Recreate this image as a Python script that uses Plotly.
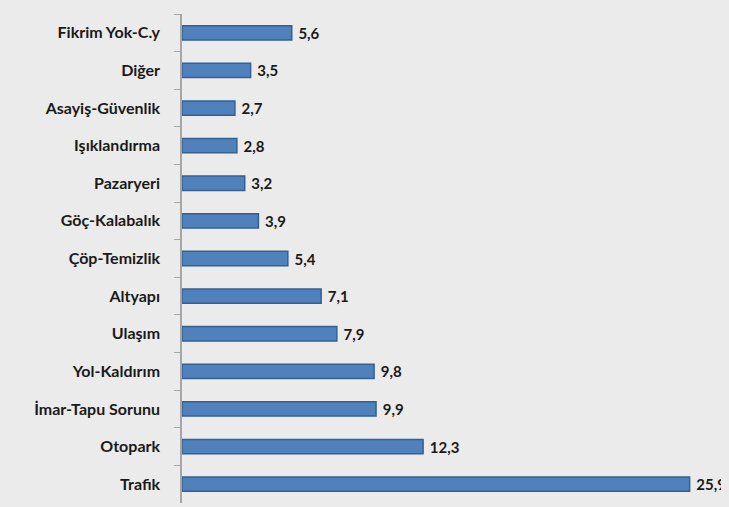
import plotly.graph_objects as go

categories = ["Fikrim Yok-C.y", "Diğer", "Asayiş-Güvenlik", "Işıklandırma", "Pazaryeri",
              "Göç-Kalabalık", "Çöp-Temizlik", "Altyapı", "Ulaşım", "Yol-Kaldırım",
              "İmar-Tapu Sorunu", "Otopark", "Trafik"]
values = [5.6, 3.5, 2.7, 2.8, 3.2, 3.9, 5.4, 7.1, 7.9, 9.8, 9.9, 12.3, 25.9]
labels = [" " + f"{v:.1f}".replace(".", ",") for v in values]

BG = "#ebebeb"

fig = go.Figure(go.Bar(
    x=values, y=categories, orientation="h",
    text=labels, textposition="outside", cliponaxis=False, constraintext="none",
    textfont=dict(family="Lato", size=15, color="#1a1a1a", weight="bold"),
    marker=dict(color="#4f81bd", line=dict(color="#36608f", width=1.5)),
    width=0.38,
))

fig.update_layout(
    width=729, height=507,
    margin=dict(l=174, r=16, t=6, b=12),
    paper_bgcolor=BG, plot_bgcolor=BG,
    showlegend=False,
    font=dict(family="Lato", size=16, color="#1a1a1a"),
    xaxis=dict(range=[0, 27.5], visible=False, showgrid=False, zeroline=False),
    yaxis=dict(
        autorange="reversed", type="category",
        showline=True, linecolor="#a6a6a6", linewidth=1.5,
        ticks="outside", ticklen=6, tickcolor="#a6a6a6", tickson="boundaries",
        ticklabelstandoff=17,
        tickfont=dict(family="Lato", size=16, color="#1a1a1a", weight="bold"),
        showgrid=False,
    ),
)

fig.write_html("out.html", post_script=f"document.body.style.background='{BG}';")
